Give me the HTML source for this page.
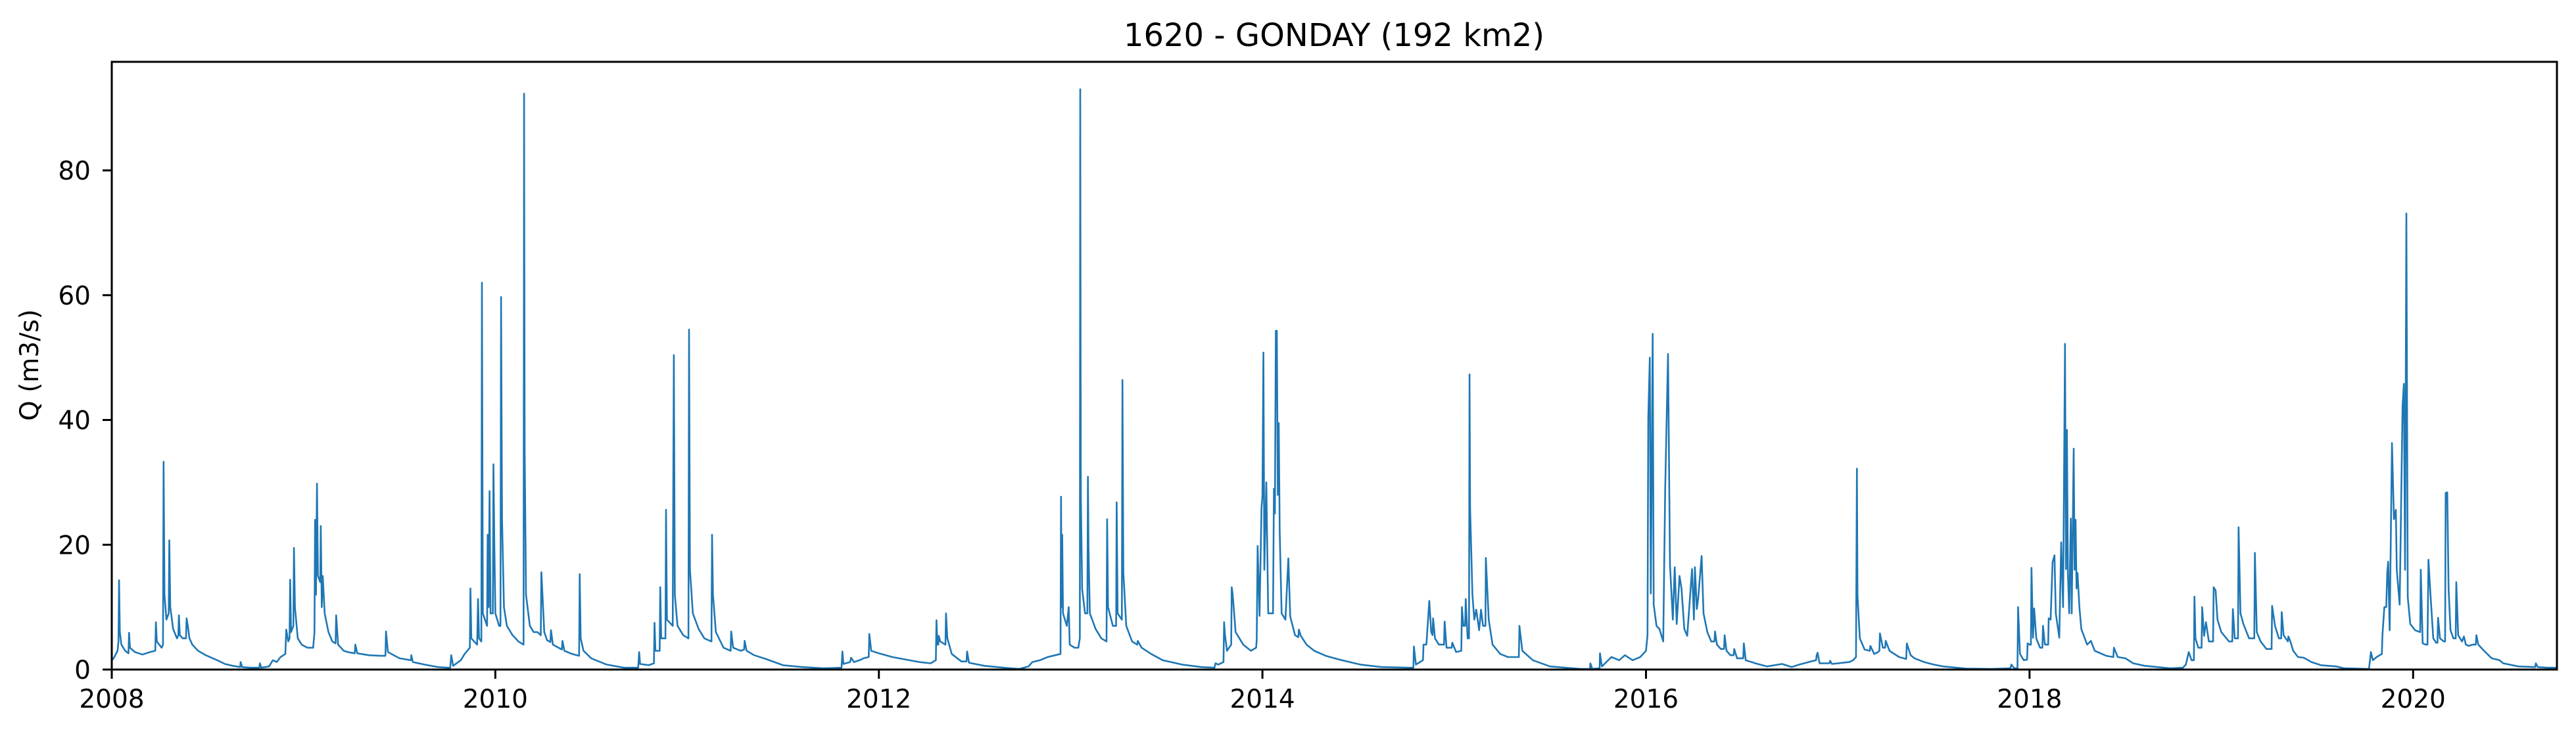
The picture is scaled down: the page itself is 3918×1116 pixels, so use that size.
<!DOCTYPE html>
<html><head><meta charset="utf-8"><style>
html,body{margin:0;padding:0;background:#fff;}
svg{display:block;font-family:"DejaVu Sans","Liberation Sans",sans-serif;}
</style></head><body>
<svg id="chart" width="3918" height="1116" viewBox="0 0 3918 1116" xmlns="http://www.w3.org/2000/svg">
<rect x="0" y="0" width="3918" height="1116" fill="#fff"/>
<text x="2029" y="70" font-size="48" text-anchor="middle">1620 - GONDAY (192 km2)</text>
<text x="0" y="0" font-size="39" text-anchor="middle" transform="translate(58,555) rotate(-90)">Q (m3/s)</text>
<g id="plot"></g>
</svg>
<script>
// [decimal year, discharge m3/s]
const season2008 = [[2008,1.5],[2008.01,1.8],[2008.03,3],[2008.035,4.5],[2008.038,14.3],[2008.042,6],[2008.05,4],[2008.07,3],[2008.087,2.6],[2008.09,5.9],[2008.095,3.5],[2008.12,2.8],[2008.16,2.4],[2008.2,2.8],[2008.227,3],[2008.23,7.6],[2008.235,4.5],[2008.26,3.5],[2008.267,4],[2008.27,33.3],[2008.275,12],[2008.285,8],[2008.297,9],[2008.3,20.7],[2008.305,10],[2008.32,6.5],[2008.34,5],[2008.347,5.5],[2008.35,8.7],[2008.355,5.5],[2008.37,5],[2008.387,5],[2008.39,8.2],[2008.397,6.9],[2008.405,5],[2008.42,4],[2008.45,3],[2008.49,2.3],[2008.55,1.5],[2008.59,0.9],[2008.63,0.6],[2008.67,0.4],[2008.672,1.2],[2008.68,0.4],[2008.72,0.3],[2008.77,0.3],[2008.772,1.0],[2008.78,0.3],[2008.82,0.5],[2008.84,1.5],[2008.86,1.2],[2008.88,2],[2008.905,2.5],[2008.91,6.4],[2008.92,4.5],[2008.927,5],[2008.93,14.4],[2008.935,6],[2008.947,7],[2008.95,19.5],[2008.955,10],[2008.97,5],[2008.99,4]];
const season2009 = [[2009.02,3.5],[2009.05,3.5],[2009.057,6],[2009.06,24],[2009.065,12],[2009.07,29.8],[2009.075,15],[2009.087,14],[2009.09,23],[2009.095,10],[2009.1,15],[2009.11,9],[2009.13,6],[2009.15,4.5],[2009.167,4.2],[2009.17,8.7],[2009.18,4],[2009.21,3],[2009.23,2.8],[2009.267,2.6],[2009.27,4],[2009.28,2.6],[2009.34,2.3],[2009.4,2.2],[2009.427,2.2],[2009.43,6.1],[2009.44,2.8],[2009.5,1.8],[2009.56,1.5],[2009.562,2.3],[2009.57,1.2],[2009.63,0.8],[2009.7,0.4],[2009.75,0.3],[2009.765,0.3],[2009.77,2.3],[2009.78,0.6],[2009.82,1.5],[2009.84,2.5],[2009.867,3.5],[2009.87,13],[2009.875,5],[2009.905,4],[2009.91,11.3],[2009.915,5],[2009.927,4.5],[2009.93,62],[2009.935,9],[2009.957,7],[2009.96,21.6],[2009.965,10],[2009.97,28.6],[2009.975,9],[2009.987,9],[2009.99,32.9],[2009.995,20]];
const season2010 = [[2010.0,9],[2010.02,7],[2010.027,7],[2010.03,59.7],[2010.035,24],[2010.045,10],[2010.06,7],[2010.09,5.5],[2010.12,4.5],[2010.147,4],[2010.15,92.3],[2010.153,35.4],[2010.16,12],[2010.18,7],[2010.2,6],[2010.22,6],[2010.237,5.5],[2010.24,15.6],[2010.245,12.6],[2010.255,6],[2010.27,4.7],[2010.287,4.4],[2010.29,6.3],[2010.3,4],[2010.33,3.5],[2010.347,3.2],[2010.35,4.6],[2010.36,3],[2010.4,2.5],[2010.437,2.2],[2010.44,15.3],[2010.445,5],[2010.46,3],[2010.5,1.8],[2010.58,0.8],[2010.67,0.3],[2010.745,0.3],[2010.75,2.8],[2010.755,0.9],[2010.8,0.7],[2010.827,1],[2010.83,7.5],[2010.835,3],[2010.857,3],[2010.86,13.2],[2010.865,5],[2010.887,5],[2010.89,25.6],[2010.895,8],[2010.925,7],[2010.928,31.9],[2010.931,50.4],[2010.936,12],[2010.95,7],[2010.98,5.5],[2011.007,5],[2011.01,54.5],[2011.015,16],[2011.03,9],[2011.06,6.5],[2011.09,5],[2011.127,4.5],[2011.13,21.6],[2011.135,12],[2011.15,6],[2011.19,3.5],[2011.227,3],[2011.23,6.1],[2011.24,3.5],[2011.28,3],[2011.297,3.2],[2011.3,4.6],[2011.31,3],[2011.35,2.3],[2011.41,1.7],[2011.5,0.7],[2011.6,0.4],[2011.71,0.2],[2011.805,0.3],[2011.81,2.9],[2011.815,0.9],[2011.85,1.2],[2011.855,1.9],[2011.87,1.2],[2011.9,1.5],[2011.92,1.8],[2011.947,2],[2011.95,5.7],[2011.96,3]];
const season2012 = [[2012.0,2.6],[2012.07,2],[2012.21,1.2],[2012.27,1.0],[2012.297,1.5],[2012.3,7.9],[2012.305,4],[2012.31,4],[2012.312,5.4],[2012.32,4.5],[2012.347,4],[2012.35,9.0],[2012.357,5],[2012.38,2.5],[2012.43,1.3],[2012.457,1.3],[2012.46,2.9],[2012.47,1.1],[2012.55,0.6],[2012.65,0.3],[2012.73,0.1],[2012.78,0.5],[2012.8,1.2],[2012.84,1.5],[2012.88,2],[2012.92,2.3],[2012.947,2.5],[2012.95,27.7],[2012.953,10],[2012.956,21.6],[2012.96,9],[2012.98,7],[2012.99,10],[2012.995,4]];
const season2013 = [[2013.02,3.5],[2013.04,3.5],[2013.048,5],[2013.05,93],[2013.053,28],[2013.06,12.9],[2013.075,9],[2013.087,9],[2013.09,30.9],[2013.093,19.5],[2013.1,9],[2013.13,6.5],[2013.16,5],[2013.187,4.5],[2013.19,24.1],[2013.195,10],[2013.22,7],[2013.237,7],[2013.24,26.8],[2013.245,9],[2013.267,8],[2013.27,46.4],[2013.275,15.5],[2013.29,7],[2013.32,4.5],[2013.347,4],[2013.35,4.6],[2013.37,3.5],[2013.42,2.5],[2013.48,1.5],[2013.58,0.8],[2013.68,0.4],[2013.75,0.3],[2013.755,1],[2013.77,0.8],[2013.797,1.2],[2013.8,7.6],[2013.805,5.5],[2013.815,3],[2013.837,4],[2013.84,13.2],[2013.845,12],[2013.86,6],[2013.9,4],[2013.94,3],[2013.967,3.5],[2013.97,4.7],[2013.975,19.8],[2013.985,8.6],[2013.995,25.9],[2014.0,27.7],[2014.005,50.8],[2014.01,16],[2014.02,30],[2014.03,9],[2014.055,9],[2014.06,29],[2014.065,25],[2014.07,54.3],[2014.075,54.3],[2014.08,28],[2014.085,39.5],[2014.09,22],[2014.1,9],[2014.12,8],[2014.135,17.8],[2014.145,8.5],[2014.17,5.5],[2014.187,5.2],[2014.19,6.4],[2014.2,5.4],[2014.23,4],[2014.27,3],[2014.33,2.2],[2014.4,1.6]];
const season2014 = [[2014.51,0.8],[2014.62,0.4],[2014.76,0.3],[2014.787,0.3],[2014.79,3.7],[2014.8,0.8],[2014.837,1.5],[2014.84,4],[2014.855,4],[2014.87,11],[2014.88,6],[2014.887,5.5],[2014.89,8.2],[2014.9,5],[2014.92,4],[2014.947,4],[2014.95,7.7],[2014.96,3.5],[2014.987,3.5],[2014.99,4.3],[2015.01,2.8],[2015.037,3],[2015.04,10],[2015.048,7],[2015.057,7],[2015.06,11.3],[2015.07,5],[2015.077,5],[2015.08,47.3],[2015.083,25.8],[2015.095,12],[2015.105,8],[2015.115,9.6],[2015.13,6.3],[2015.14,9.6],[2015.15,7],[2015.163,7],[2015.165,17.9],[2015.18,8],[2015.2,4],[2015.24,2.5],[2015.28,2],[2015.31,2],[2015.337,2],[2015.34,7.0],[2015.355,3],[2015.41,1.5],[2015.5,0.5],[2015.66,0.1],[2015.708,0.1],[2015.71,1.0],[2015.72,0.1],[2015.758,0.2],[2015.76,2.6],[2015.77,0.5],[2015.82,2],[2015.86,1.5],[2015.89,2.3],[2015.93,1.5],[2015.97,2],[2016.0,3],[2016.008,5.5],[2016.012,40.5],[2016.02,50],[2016.025,12.2],[2016.035,53.8],[2016.04,10.4],[2016.055,7],[2016.07,6.5],[2016.09,4.5],[2016.1,29],[2016.115,50.6],[2016.125,16.7],[2016.14,8],[2016.15,16.4],[2016.16,7.3],[2016.175,15],[2016.185,13],[2016.2,6.5],[2016.215,5.4],[2016.24,16.1],[2016.25,8],[2016.255,16.4],[2016.265,9.7],[2016.272,11.3],[2016.29,18.2],[2016.3,9],[2016.32,6],[2016.34,4.5],[2016.357,4.5],[2016.36,6.1],[2016.37,4],[2016.39,3.3],[2016.407,3.3],[2016.41,5.5],[2016.42,3],[2016.44,2.3],[2016.457,2.3],[2016.46,3.3],[2016.475,1.8],[2016.507,1.8],[2016.51,4.2],[2016.52,1.5],[2016.57,1],[2016.63,0.5],[2016.71,0.9],[2016.76,0.4],[2016.8,0.8],[2016.86,1.3],[2016.887,1.5],[2016.89,2.3],[2016.895,2.7],[2016.905,1],[2016.957,1],[2016.96,1.4],[2016.97,0.9]];
const season2017 = [[2017.06,1.2],[2017.08,1.5],[2017.095,2],[2017.1,32.2],[2017.103,11.9],[2017.115,5],[2017.14,3.2],[2017.167,3],[2017.17,3.8],[2017.19,2.5],[2017.21,2.8],[2017.217,3],[2017.22,5.8],[2017.235,3.5],[2017.247,3.5],[2017.25,4.6],[2017.27,3],[2017.32,2],[2017.357,1.7],[2017.36,4.2],[2017.38,2.3],[2017.4,1.8],[2017.45,1.2],[2017.5,0.8],[2017.55,0.5],[2017.67,0.15],[2017.8,0.1],[2017.9,0.2],[2017.905,0.8],[2017.92,0.2],[2017.937,0.2],[2017.94,10],[2017.95,2.5],[2017.97,1.5],[2017.987,1.6],[2017.99,4.2],[2018.0,4],[2018.007,4],[2018.01,16.3],[2018.018,5.1],[2018.024,9.8],[2018.035,5],[2018.055,3.5],[2018.067,3.5],[2018.07,7],[2018.08,4],[2018.097,4],[2018.1,8.2],[2018.11,8],[2018.12,17.2],[2018.13,18.3],[2018.137,9],[2018.155,5.1],[2018.165,20.4],[2018.175,10],[2018.185,52.2],[2018.19,16.1],[2018.195,38.4],[2018.2,15.5],[2018.207,9],[2018.215,24.2],[2018.22,9],[2018.23,35.4],[2018.235,16],[2018.24,24],[2018.245,13],[2018.25,15.5],[2018.26,10],[2018.27,6.5],[2018.3,4],[2018.32,4.6],[2018.34,3],[2018.4,2.2],[2018.437,2],[2018.44,3.5],[2018.46,2],[2018.5,1.8],[2018.54,1],[2018.6,0.6],[2018.73,0.2],[2018.8,0.3],[2018.815,0.8],[2018.83,2.8],[2018.845,1.5],[2018.857,1.5],[2018.86,11.7],[2018.865,5],[2018.88,3.5],[2018.897,3.5],[2018.9,10],[2018.91,5.4],[2018.92,7.6],[2018.935,4.5],[2018.957,4.5],[2018.96,13.2],[2018.97,12.7],[2018.98,8],[2019.0,6],[2019.04,4.5],[2019.057,4.5],[2019.06,9.7],[2019.07,5],[2019.087,5],[2019.09,22.8],[2019.1,9],[2019.115,7.3],[2019.145,5],[2019.172,5],[2019.175,18.7],[2019.185,6],[2019.205,4.5],[2019.235,3.3],[2019.262,3.3],[2019.265,10.2],[2019.28,7],[2019.3,5],[2019.312,5],[2019.315,9.2],[2019.325,5.5],[2019.347,4.5],[2019.35,5.3],[2019.36,4.5],[2019.375,3],[2019.4,2],[2019.43,1.9],[2019.47,1.2],[2019.52,0.7],[2019.6,0.5],[2019.64,0.2],[2019.77,0.1],[2019.78,2.8],[2019.79,1.5],[2019.81,2],[2019.837,2.5],[2019.84,5.5],[2019.85,10],[2019.86,10],[2019.865,15.5],[2019.87,17.3],[2019.878,6.3],[2019.89,36.3],[2019.9,24.1],[2019.91,25.6],[2019.915,16],[2019.93,10.4],[2019.945,42.3],[2019.952,45.8],[2019.958,16],[2019.965,73.1],[2019.972,11.6],[2019.985,7.3],[2020.01,6.3],[2020.037,6],[2020.04,16],[2020.05,4.2],[2020.065,4],[2020.075,4],[2020.08,17.6],[2020.09,12.3],[2020.105,5],[2020.12,4.3],[2020.127,4.3],[2020.13,8.3],[2020.14,5],[2020.16,4.5],[2020.167,4.5],[2020.17,28.3],[2020.178,28.4],[2020.185,13],[2020.195,6.3],[2020.21,5],[2020.222,5],[2020.225,14],[2020.235,5.5],[2020.255,4.5],[2020.265,5.3],[2020.275,4],[2020.29,3.8],[2020.31,4],[2020.327,4],[2020.33,5.5],[2020.34,4],[2020.37,3],[2020.41,1.8],[2020.45,1.5],[2020.47,1],[2020.55,0.5],[2020.637,0.4],[2020.64,1.0],[2020.65,0.4],[2020.7,0.3],[2020.75,0.3]];
const xTickValues = [2008,2010,2012,2014,2016,2018,2020];
const xTickLabels = ["2008","2010","2012","2014","2016","2018","2020"];
const yTickValues = [0,20,40,60,80];
const yTickLabels = ["0","20","40","60","80"];

const series = [].concat(season2008,season2009,season2010,season2012,season2013,season2014,season2017);
const X0=170, X1=3889, Y0=1018, Y1=94;
const xMin=2008, xMax=2020.75, yMin=0, yMax=97.4;
function xScale(v){return X0+(v-xMin)/(xMax-xMin)*(X1-X0);}
function yScale(v){return Y0-(v-yMin)/(yMax-yMin)*(Y0-Y1);}
const NS="http://www.w3.org/2000/svg";
const g=document.getElementById('plot');
function mk(tag,attrs){const e=document.createElementNS(NS,tag);for(const k in attrs)e.setAttribute(k,attrs[k]);return e;}

let d='';
series.forEach((p,i)=>{d+=(i?'L':'M')+xScale(p[0]).toFixed(1)+' '+yScale(p[1]).toFixed(1);});
const clip=mk('clipPath',{id:'pc'});clip.appendChild(mk('rect',{x:X0,y:Y1,width:X1-X0,height:Y0-Y1}));g.appendChild(clip);
const line=mk('path',{d:d,fill:'none',stroke:'#1f77b4','stroke-width':2.6,'stroke-linejoin':'round','clip-path':'url(#pc)'});


g.appendChild(line);

const frame=mk('rect',{x:X0,y:Y1,width:X1-X0,height:Y0-Y1,fill:'none',stroke:'#000','stroke-width':3});


g.appendChild(frame);

xTickValues.forEach((v,i)=>{
  const x=xScale(v);
  const t=mk('line',{x1:x,y1:Y0,x2:x,y2:Y0+14,stroke:'#000','stroke-width':3});
  
  
  g.appendChild(t);
  const tx=mk('text',{x:x,y:1076,'font-size':39,'text-anchor':'middle'});
  tx.textContent=xTickLabels[i];
  
  
  g.appendChild(tx);
});
yTickValues.forEach((v,i)=>{
  const y=yScale(v);
  const t=mk('line',{x1:X0-14,y1:y,x2:X0,y2:y,stroke:'#000','stroke-width':3});
  
  
  g.appendChild(t);
  const tx=mk('text',{x:138,y:y+14,'font-size':39,'text-anchor':'end'});
  tx.textContent=yTickLabels[i];
  
  
  g.appendChild(tx);
});
</script>
</body></html>
